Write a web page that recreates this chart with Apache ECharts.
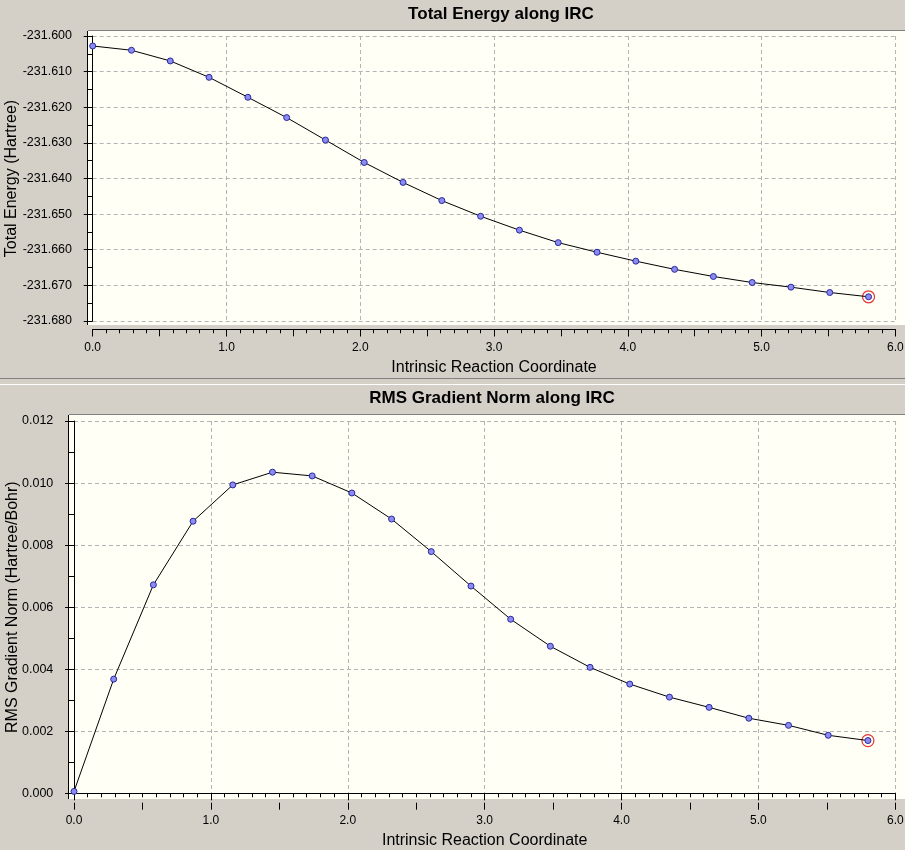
<!DOCTYPE html>
<html>
<head>
<meta charset="utf-8">
<script src="https://cdn.jsdelivr.net/npm/echarts@6/dist/echarts.min.js"></script>
<style>
html,body{margin:0;padding:0;background:#d4d0c8;}
#chart{width:905px;height:850px;}
</style>
</head>
<body>
<div id="chart"></div>
<script>
// ---- data ----
const irc = [0.00,0.29,0.58,0.87,1.16,1.45,1.74,2.03,2.32,2.61,2.90,3.19,3.48,3.77,4.06,4.35,4.64,4.93,5.22,5.51,5.80];
const totalEnergy = [-231.6028,-231.6040,-231.6070,-231.6116,-231.6172,-231.6229,-231.6292,-231.6355,-231.6411,-231.6462,-231.6506,-231.6545,-231.6580,-231.6607,-231.6632,-231.6655,-231.6675,-231.6692,-231.6705,-231.6720,-231.6732];
const rmsGradient = [0.00006,0.00368,0.00672,0.00877,0.00994,0.01035,0.01023,0.00968,0.00884,0.00779,0.00668,0.00561,0.00474,0.00406,0.00352,0.00310,0.00277,0.00242,0.00219,0.00187,0.00170];
const titles = ['Total Energy along IRC','RMS Gradient Norm along IRC'];
const xName = 'Intrinsic Reaction Coordinate';
const yNames = ['Total Energy (Hartree)','RMS Gradient Norm (Hartree/Bohr)'];
const xRange = [0, 6];
const yRangeTop = [-231.68, -231.60];
const yRangeBottom = [0, 0.012];

const FONT = 'Liberation Sans, Arial, sans-serif';
const pts = (xs, ys) => xs.map((x, i) => [x, ys[i]]);
const last = (xs, ys) => [[xs[xs.length-1], ys[ys.length-1]]];

const dashed = {show:true, lineStyle:{color:'#b4b4b4', type:[4,3], width:1}};

function xAxes(gridIndex, offset){
  return [{
    type:'value', gridIndex, min:xRange[0], max:xRange[1], interval:1, offset,
    name:xName, nameLocation:'middle', nameGap:30, nameMoveOverlap:false,
    nameTextStyle:{fontFamily:FONT, fontSize:16, color:'#000'},
    axisLine:{show:true, lineStyle:{color:'#000', width:1}},
    axisTick:{show:true, length:7, lineStyle:{color:'#000'}},
    minorTick:{show:true, splitNumber:10, length:4, lineStyle:{color:'#000'}},
    axisLabel:{fontFamily:FONT, fontSize:12, color:'#000', margin:12, formatter:v=>v.toFixed(1)},
    splitLine:dashed
  },{
    type:'value', gridIndex, min:xRange[0], max:xRange[1], interval:0.5, offset, position:'bottom',
    axisLine:{show:false}, axisLabel:{show:false}, splitLine:{show:false},
    axisTick:{show:true, length:7, lineStyle:{color:'#000'}}
  }];
}
function yAxis(gridIndex, range, interval, name, gap, fmt){
  return {
    type:'value', gridIndex, min:range[0], max:range[1], interval, offset:5.7,
    name, nameLocation:'middle', nameGap:gap, nameRotate:90, nameMoveOverlap:false,
    nameTextStyle:{fontFamily:FONT, fontSize:16, color:'#000'},
    axisLine:{show:true, lineStyle:{color:'#000', width:1}},
    axisTick:{show:true, length:9, lineStyle:{color:'#000'}},
    minorTick:{show:true, splitNumber:2, length:5, lineStyle:{color:'#000'}},
    axisLabel:{fontFamily:FONT, fontSize:12.5, color:'#000', margin:15, formatter:fmt},
    splitLine:dashed
  };
}
function lineSeries(xi, yi, data){
  return {
    type:'line', xAxisIndex:xi, yAxisIndex:yi, data, smooth:false,
    symbol:'circle', symbolSize:6, showSymbol:true, z:3,
    lineStyle:{color:'#000', width:1},
    itemStyle:{color:'#8c8cf0', borderColor:'#2828a0', borderWidth:1},
    emphasis:{disabled:true}, animation:false
  };
}
function ringSeries(xi, yi, data){
  return {
    type:'scatter', xAxisIndex:xi, yAxisIndex:yi, data, z:2,
    symbol:'circle', symbolSize:12,
    itemStyle:{color:'rgba(0,0,0,0)', borderColor:'#e00000', borderWidth:1.2},
    emphasis:{disabled:true}, animation:false
  };
}

const chart = echarts.init(document.getElementById('chart'), null, {renderer:'canvas'});
chart.setOption({
  backgroundColor:'#d4d0c8',
  animation:false,
  title:[
    {text:titles[0], left:496, top:1, textAlign:'center', textStyle:{fontFamily:FONT, fontSize:17, fontWeight:'bold', color:'#000'}},
    {text:titles[1], left:487, top:385, textAlign:'center', textStyle:{fontFamily:FONT, fontSize:17, fontWeight:'bold', color:'#000'}}
  ],
  graphic:[
    {type:'rect', z:-10, shape:{x:88, y:31, width:817, height:294}, style:{fill:'#fffff6'}},
    {type:'line', z:-9, shape:{x1:88, y1:30.5, x2:905, y2:30.5}, style:{stroke:'#808080', lineWidth:1}},
    {type:'line', z:-9, shape:{x1:87.5, y1:31, x2:87.5, y2:325}, style:{stroke:'#000', lineWidth:1}},
    {type:'rect', z:-10, shape:{x:69, y:415, width:836, height:384}, style:{fill:'#fffff6'}},
    {type:'line', z:-9, shape:{x1:69, y1:414.5, x2:905, y2:414.5}, style:{stroke:'#808080', lineWidth:1}},
    {type:'line', z:-9, shape:{x1:68.5, y1:415, x2:68.5, y2:799}, style:{stroke:'#000', lineWidth:1}},
    {type:'line', z:-9, shape:{x1:0, y1:378.5, x2:905, y2:378.5}, style:{stroke:'#808080', lineWidth:1}},
    {type:'line', z:-9, shape:{x1:0, y1:384.5, x2:905, y2:384.5}, style:{stroke:'#ffffff', lineWidth:1}}
  ],
  grid:[
    {left:92.7, right:9.7, top:36, height:285, outerBoundsMode:'none', containLabel:false},
    {left:74, right:9.7, top:421, height:372.3, outerBoundsMode:'none', containLabel:false}
  ],
  xAxis:[...xAxes(0, 8.3), ...xAxes(1, 9.4)],
  yAxis:[
    yAxis(0, yRangeTop, 0.01, yNames[0], 67, v=>v.toFixed(3)),
    yAxis(1, yRangeBottom, 0.002, yNames[1], 48, v=>v.toFixed(3))
  ],
  series:[
    ringSeries(0, 0, last(irc, totalEnergy)),
    lineSeries(0, 0, pts(irc, totalEnergy)),
    ringSeries(2, 1, last(irc, rmsGradient)),
    lineSeries(2, 1, pts(irc, rmsGradient))
  ]
});
</script>
</body>
</html>
